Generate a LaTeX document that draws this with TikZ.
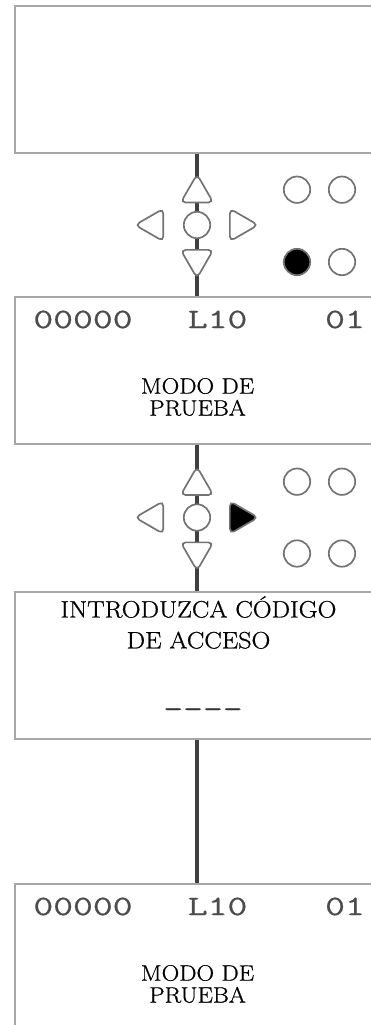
\documentclass[tikz,border=0pt]{standalone}
\usepackage{fontspec}
\setmainfont{Latin Modern Roman}[FakeStretch=1.1, FakeBold=0.8]
\newfontfamily\lcdfont{Latin Modern Mono}[FakeStretch=1.37, FakeBold=0.7]
\usetikzlibrary{positioning,shapes.geometric,backgrounds}

\begin{document}
\begin{tikzpicture}[
  screen/.style={draw=black!35, line width=1.5pt, minimum width=9.4cm, minimum height=3.675cm,
                 anchor=north west, inner sep=0pt},
  wire/.style={draw=black!75, line width=2.4pt},
  btn/.style={circle, draw=black!55, line width=1.2pt, fill=white, minimum size=0.66cm, inner sep=0pt},
  key/.style={regular polygon, regular polygon sides=3, draw=black!55, line width=1.2pt, fill=white,
              minimum size=0.94cm, inner sep=0pt, rounded corners=3.5pt},
  lcd/.style={font=\fontsize{20}{22}\selectfont\lcdfont, text=black!70, inner sep=0pt},
  msg/.style={font=\fontsize{15.8}{15.6}\selectfont, align=center, inner sep=0pt},
]
\useasboundingbox (0,0) rectangle (9.275,-25.625);

% display screens
\node[screen] (b1) at (0.35,-0.125)  {};
\node[screen] (b2) at (0.35,-7.4)    {};
\node[screen] (b3) at (0.35,-14.775) {};
\node[screen] (b4) at (0.35,-22.075) {};

% first keypad
\node[btn] (kA) at (4.925,-5.625) {};
\node[key] (kAu) [above=0.19cm of kA] {};
\node[key, shape border rotate=180] (kAd) [below=0.25cm of kA] {};
\node[key, shape border rotate=90]  (kAl) [left=0.47cm of kA] {};
\node[key, shape border rotate=-90] (kAr) [right=0.45cm of kA] {};
\node[btn] (lA1) at (7.425,-4.7425) {};
\node[btn] (lA2) at (8.55,-4.7425)  {};
\node[btn, fill=black] (lA3) at (7.425,-6.55) {};
\node[btn] (lA4) at (8.55,-6.55)    {};

% second keypad
\node[btn] (kB) at (4.925,-12.9375) {};
\node[key] (kBu) [above=0.19cm of kB] {};
\node[key, shape border rotate=180] (kBd) [below=0.25cm of kB] {};
\node[key, shape border rotate=90]  (kBl) [left=0.47cm of kB] {};
\node[key, shape border rotate=-90, fill=black] (kBr) [right=0.45cm of kB] {};
\node[btn] (lB1) at (7.425,-12.0425) {};
\node[btn] (lB2) at (8.55,-12.0425)  {};
\node[btn] (lB3) at (7.425,-13.8375) {};
\node[btn] (lB4) at (8.55,-13.8375)  {};

% screen texts
\node[lcd] (c1) at (2.075,-7.9875) {00000};
\node[lcd] (l1) at (5.44,-7.9875)  {L10};
\node[lcd] (n1) at (8.625,-7.9875) {01};
\node[msg] (m1) at (4.9375,-9.925) {MODO DE\\PRUEBA};

\node[msg, font=\fontsize{16.9}{22}\selectfont] (ask) at (4.9625,-15.5625)
  {INTRODUZCA CÓDIGO\\DE ACCESO};
\node[lcd, text=black!80] (pin) at (5.075,-17.825) {----};

\node[lcd] (c2) at (2.075,-22.6625) {00000};
\node[lcd] (l2) at (5.44,-22.6625)  {L10};
\node[lcd] (n2) at (8.625,-22.6625) {01};
\node[msg] (m2) at (4.9375,-24.6) {MODO DE\\PRUEBA};

% connecting line
\begin{scope}[on background layer]
\draw[wire] (b1.south -| kA) -- (b2.north -| kA);
\draw[wire] (b2.south -| kB) -- (b3.north -| kB);
\draw[wire] (b3.south -| kB) -- (b4.north -| kB);
\end{scope}
\end{tikzpicture}
\end{document}
